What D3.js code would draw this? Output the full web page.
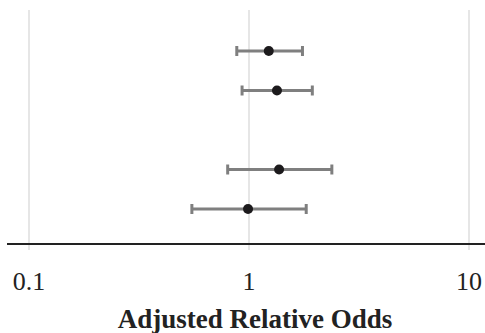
<!DOCTYPE html>
<html>
<head>
<meta charset="utf-8">
<script src="https://cdn.jsdelivr.net/npm/d3@7"></script>
<style>
  body { margin: 0; background: #fff; }
  svg { display: block; }
</style>
</head>
<body>
<svg id="chart" width="485" height="333"></svg>
<script>
// rows from top to bottom; the middle one is empty in the picture
var categories = ["Group 1", "Group 2", "Group 3", "Group 4", "Group 5"];
var oddsRatio  = [1.23, 1.34, null, 1.37, 0.99];
var lowerCI    = [0.88, 0.93, null, 0.80, 0.55];
var upperCI    = [1.75, 1.94, null, 2.38, 1.82];
var tickValues = [0.1, 1, 10];
var tickLabels = ["0.1", "1", "10"];

var rows = categories.map(function(c, i) {
  return {cat: c, or: oddsRatio[i], lo: lowerCI[i], hi: upperCI[i]};
}).filter(function(d) { return d.or != null; });

var svg = d3.select('#chart');
var serif = '"Liberation Serif", "Times New Roman", Times, serif';

var x = d3.scaleLog().domain([0.1, 10]).range([29, 469]);
var y = d3.scalePoint().domain(categories).range([51, 209]);

var axisY = 244;

// grid lines
svg.append('g').selectAll('line')
  .data(tickValues)
  .enter().append('line')
  .attr('x1', function(d) { return x(d); })
  .attr('x2', function(d) { return x(d); })
  .attr('y1', 10)
  .attr('y2', 250)
  .attr('stroke', '#dedede')
  .attr('stroke-width', 1.5);

// axis line
svg.append('line')
  .attr('x1', 7).attr('x2', 485)
  .attr('y1', axisY).attr('y2', axisY)
  .attr('stroke', '#222')
  .attr('stroke-width', 2);

// tick labels
svg.append('g').selectAll('text')
  .data(tickValues)
  .enter().append('text')
  .attr('x', function(d) { return x(d); })
  .attr('y', 290)
  .attr('text-anchor', 'middle')
  .style('font-family', serif)
  .style('font-size', '26px')
  .attr('fill', '#222')
  .text(function(d, i) { return tickLabels[i]; });

// axis title
svg.append('text')
  .attr('x', 255)
  .attr('y', 328)
  .attr('text-anchor', 'middle')
  .style('font-family', serif)
  .style('font-size', '27px')
  .style('font-weight', 'bold')
  .attr('fill', '#222')
  .text('Adjusted Relative Odds');

// error bars
var bars = svg.append('g').selectAll('g')
  .data(rows)
  .enter().append('g');

bars.append('line')
  .attr('x1', function(d) { return x(d.lo); })
  .attr('x2', function(d) { return x(d.hi); })
  .attr('y1', function(d) { return y(d.cat); })
  .attr('y2', function(d) { return y(d.cat); })
  .attr('stroke', '#7f7f7f')
  .attr('stroke-width', 3);

['lo', 'hi'].forEach(function(k) {
  bars.append('line')
    .attr('x1', function(d) { return x(d[k]); })
    .attr('x2', function(d) { return x(d[k]); })
    .attr('y1', function(d) { return y(d.cat) - 5; })
    .attr('y2', function(d) { return y(d.cat) + 5; })
    .attr('stroke', '#7f7f7f')
    .attr('stroke-width', 3);
});

// points
bars.append('circle')
  .attr('cx', function(d) { return x(d.or); })
  .attr('cy', function(d) { return y(d.cat); })
  .attr('r', 5)
  .attr('fill', '#1c1a1c');
</script>
</body>
</html>
